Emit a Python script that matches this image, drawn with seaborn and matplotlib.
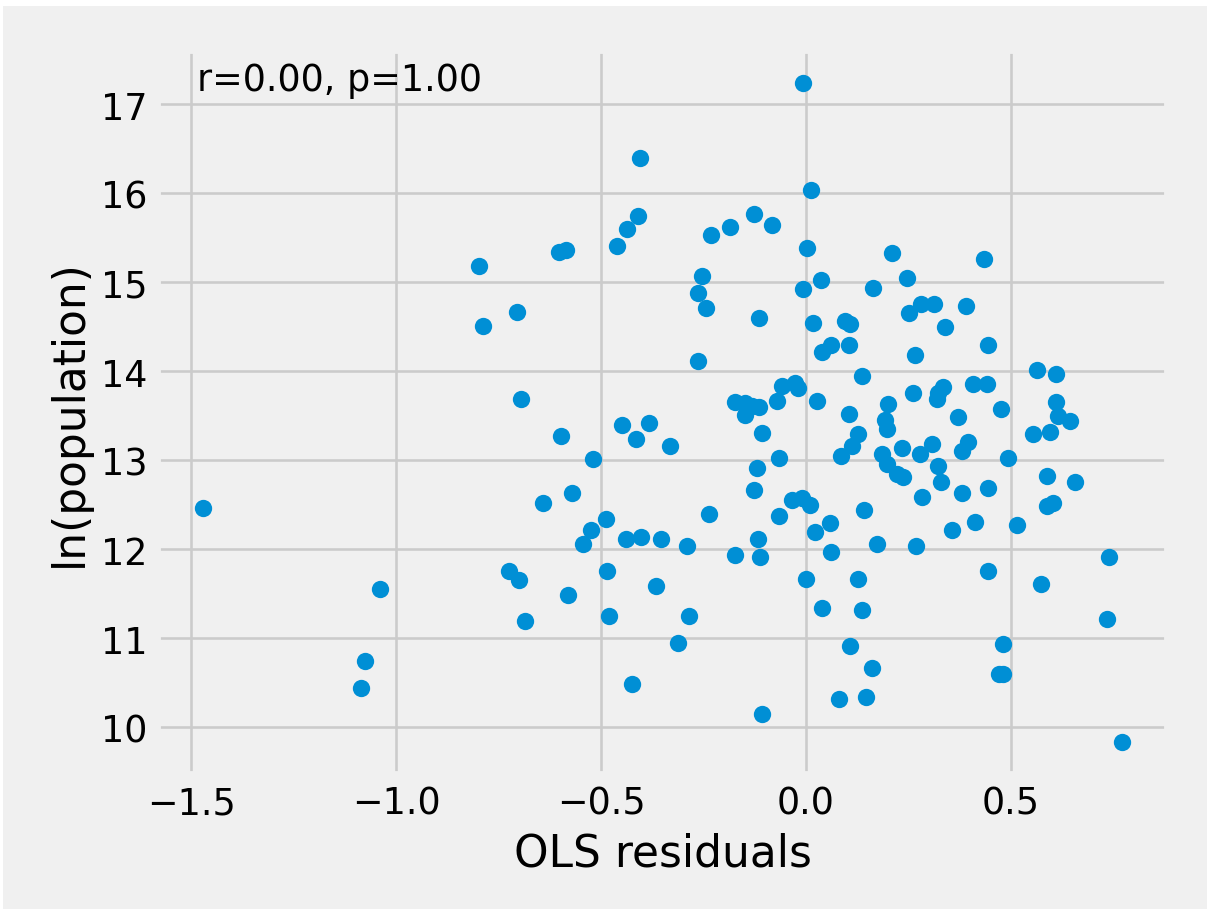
"""OLS残差と人口(対数)の散布図。"""

import matplotlib
import matplotlib.pyplot as plt
import pandas as pd
import seaborn as sns
from matplotlib.patches import Rectangle

matplotlib.use("Agg")

# 残差 (x) と ln(人口) (y) を図から読み取った値
residuals = [
    -1.472, -1.040, -1.077, -1.086, -0.797, -0.789, -0.724, -0.701, -0.686, -0.705,
    -0.696, -0.641, -0.602, -0.585, -0.598, -0.572, -0.582, -0.544, -0.525, -0.521,
    -0.489, -0.485, -0.481, -0.461, -0.438, -0.410, -0.405, -0.448, -0.416, -0.384,
    -0.440, -0.402, -0.355, -0.365, -0.424, -0.333, -0.313, -0.291, -0.286, -0.264,
    -0.254, -0.264, -0.244, -0.236, -0.231, -0.185, -0.173, -0.148, -0.132, -0.116,
    -0.148, -0.173, -0.127, -0.116, -0.120, -0.126, -0.118, -0.112, -0.108, -0.108,
    -0.084, -0.070, -0.067, -0.067, -0.058, -0.028, -0.019, -0.035, -0.011, 0.010,
    -0.007, 0.012, 0.002, -0.007, 0.036, 0.018, 0.040, 0.062, 0.026, 0.022,
    0.058, 0.062, 0.000, 0.040, 0.081, 0.085, 0.095, 0.107, 0.105, 0.105,
    0.113, 0.127, 0.127, 0.108, 0.137, 0.142, 0.137, 0.146, 0.160, 0.164,
    0.173, 0.186, 0.198, 0.192, 0.198, 0.200, 0.210, 0.223, 0.237, 0.233,
    0.246, 0.251, 0.261, 0.265, 0.269, 0.277, 0.280, 0.284, 0.307, 0.312,
    0.322, 0.334, 0.320, 0.322, 0.330, 0.338, 0.357, 0.370, 0.380, 0.380,
    0.390, 0.395, 0.407, 0.412, 0.435, 0.441, 0.443, 0.445, 0.445, 0.476,
    0.492, 0.481, 0.472, 0.480, 0.514, 0.554, 0.596, 0.563, 0.610, 0.610,
    0.614, 0.644, 0.588, 0.657, 0.589, 0.603, 0.573, 0.739, 0.735, 0.772,
]
log_population = [
    12.46, 11.55, 10.74, 10.445, 15.18, 14.51, 11.75, 11.65, 11.19, 14.67,
    13.69, 12.52, 15.34, 15.36, 13.27, 12.63, 11.48, 12.06, 12.21, 13.01,
    12.34, 11.76, 11.25, 15.41, 15.60, 15.74, 16.40, 13.39, 13.24, 13.42,
    12.12, 12.14, 12.12, 11.59, 10.49, 13.16, 10.95, 12.04, 11.25, 14.11,
    15.07, 14.88, 14.71, 12.40, 15.53, 15.62, 13.65, 13.64, 13.61, 13.60,
    13.51, 11.93, 15.77, 14.60, 12.91, 12.67, 12.11, 11.91, 13.31, 10.15,
    15.64, 13.67, 13.03, 12.37, 13.83, 13.87, 13.81, 12.55, 12.57, 12.50,
    17.24, 16.04, 15.39, 14.92, 15.03, 14.54, 14.22, 14.30, 13.67, 12.19,
    12.29, 11.97, 11.66, 11.34, 10.32, 13.05, 14.57, 14.53, 14.29, 13.52,
    13.16, 13.30, 11.67, 10.91, 13.95, 12.44, 11.32, 10.34, 10.66, 14.94,
    12.06, 13.07, 12.96, 13.45, 13.35, 13.63, 15.33, 12.84, 12.81, 13.14,
    15.05, 14.65, 13.76, 14.18, 12.04, 13.07, 14.75, 12.59, 13.18, 14.75,
    13.76, 13.82, 13.69, 12.93, 12.76, 14.50, 12.21, 13.48, 13.10, 12.63,
    14.73, 13.21, 13.86, 12.31, 15.26, 13.86, 14.29, 12.69, 11.76, 13.57,
    13.03, 10.93, 10.60, 10.60, 12.27, 13.30, 13.32, 14.01, 13.97, 13.65,
    13.50, 13.44, 12.82, 12.76, 12.49, 12.52, 11.61, 11.91, 11.21, 9.83,
]
stats_label = "r=0.00, p=1.00"


def main() -> None:
    plt.style.use("fivethirtyeight")
    df = pd.DataFrame({"resid": residuals, "lnpop": log_population})

    fig, ax = plt.subplots(figsize=(1207 / 188, 910 / 188), dpi=188)
    fig.patch.set_facecolor("white")
    # 左上の細い白い余白以外をグレーで塗る
    fig.patches.append(
        Rectangle((3 / 1207, 0), 1, 1 - 7 / 910, transform=fig.transFigure,
                  facecolor="#f0f0f0", edgecolor="none", zorder=-10)
    )
    fig.subplots_adjust(left=0.130, right=0.968, bottom=0.147, top=0.944)

    sns.scatterplot(data=df, x="resid", y="lnpop", ax=ax, color="#008fd5",
                    s=44, linewidth=0, alpha=1)
    ax.set_xlabel("OLS residuals")
    ax.set_ylabel("ln(population)")
    ax.text(0.04, 0.985, stats_label, transform=ax.transAxes,
            ha="left", va="top", fontsize=14)

    fig.savefig("out.png", dpi=188, facecolor=fig.get_facecolor())
    plt.close(fig)


if __name__ == "__main__":
    main()
